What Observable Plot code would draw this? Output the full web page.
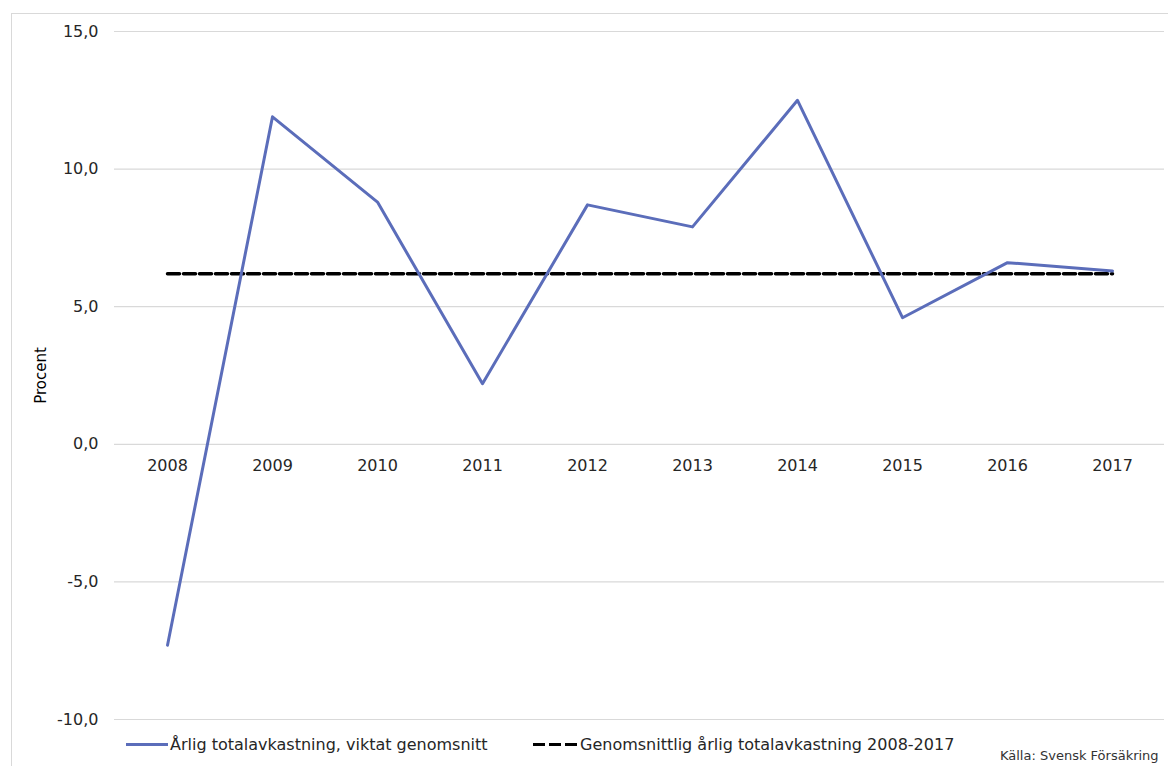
<!DOCTYPE html>
<html>
<head>
<meta charset="utf-8">
<script src="https://cdn.jsdelivr.net/npm/d3@7"></script>
<script src="https://cdn.jsdelivr.net/npm/@observablehq/plot@0.6"></script>
<style>
  html, body { margin: 0; padding: 0; background: #fff; overflow: hidden; }
  body { width: 1168px; height: 766px; position: relative; font-family: "DejaVu Sans", Verdana, sans-serif; }
  #frame { position: absolute; left: 11px; top: 13px; width: 1170px; height: 770px; border: 1px solid #d9d9d9; box-sizing: border-box; }
  #chart { position: absolute; left: 0; top: 0; }
  #legend { position: absolute; left: 0; top: 735px; width: 1168px; height: 24px; font-size: 16px; color: #262626; }
  .item { position: absolute; top: 0; display: flex; align-items: center; white-space: nowrap; }
  .sw { display: inline-block; height: 0; margin-right: 2px; }
  #source { position: absolute; left: 1000px; top: 748px; font-size: 13px; color: #333; white-space: nowrap; font-family: "DejaVu Sans", Verdana, sans-serif; }
</style>
</head>
<body>
<div id="frame"></div>
<div id="chart"></div>
<div id="legend">
  <div class="item" style="left:126px"><span class="sw" style="width:42px;border-top:3px solid #5b6dba"></span><span id="l1"></span></div>
  <div class="item" style="left:533px"><span class="sw" style="width:44px;height:3.5px;margin-right:3px;border:none;background:repeating-linear-gradient(90deg,#000 0 12px,transparent 12px 16px)"></span><span id="l2"></span></div>
</div>
<div id="source"></div>
<script>
const years = ["2008","2009","2010","2011","2012","2013","2014","2015","2016","2017"];
const annualReturn = [-7.3, 11.9, 8.8, 2.2, 8.7, 7.9, 12.5, 4.6, 6.6, 6.3];
const averageReturn = 6.2;
const yTicks = [-10, -5, 0, 5, 10, 15];
const seriesName = "Årlig totalavkastning, viktat genomsnitt";
const averageName = "Genomsnittlig årlig totalavkastning 2008-2017";
const yLabel = "Procent";
const sourceText = "Källa: Svensk Försäkring";

const data = years.map((y, i) => ({year: y, value: annualReturn[i]}));
const avgData = years.map(y => ({year: y, value: averageReturn}));
const fmt = d => d.toFixed(1).replace(".", ",");

const plot = Plot.plot({
  width: 1168,
  height: 730,
  marginLeft: 114,
  marginRight: 4,
  marginTop: 31,
  marginBottom: 11,
  style: {fontFamily: "'DejaVu Sans', Verdana, sans-serif", fontSize: "16px", color: "#262626", background: "transparent"},
  x: {type: "point", domain: years, padding: 0.5, axis: null},
  y: {domain: [-10, 15], axis: null},
  marks: [
    Plot.gridY(yTicks, {stroke: "#d9d9d9", strokeOpacity: 1, strokeWidth: 1.2}),
    Plot.axisY(yTicks, {tickSize: 0, tickPadding: 16, tickFormat: fmt, label: null, fontSize: 16, fill: "#262626"}),
    Plot.text(years, {x: d => d, y: 0, dy: 22, text: d => d, fontSize: 16, fill: "#262626"}),
    Plot.text([yLabel], {frameAnchor: "left", textAnchor: "middle", dx: -73, rotate: -90, fontSize: 15, fill: "#000"}),
    Plot.line(avgData, {x: "year", y: "value", stroke: "#000", strokeWidth: 3.5, strokeDasharray: "12,4"}),
    Plot.line(data, {x: "year", y: "value", stroke: "#5b6dba", strokeWidth: 3})
  ]
});
document.getElementById("chart").appendChild(plot);
document.getElementById("l1").textContent = seriesName;
document.getElementById("l2").textContent = averageName;
document.getElementById("source").textContent = sourceText;
</script>
</body>
</html>
